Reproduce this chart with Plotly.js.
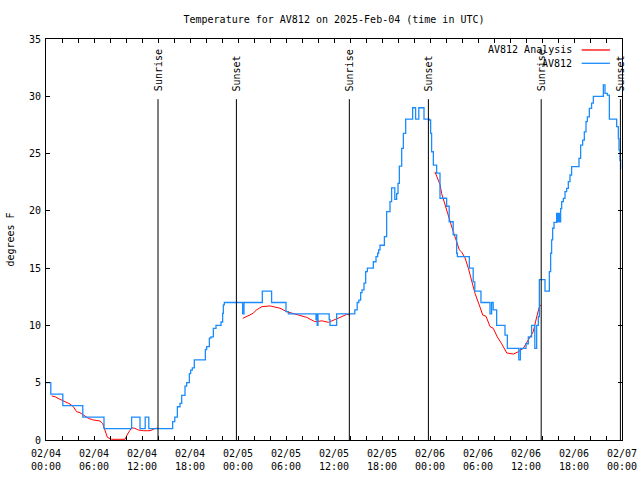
<!DOCTYPE html>
<html>
<head>
<meta charset="utf-8">
<script src="https://cdn.plot.ly/plotly-3.0.1.min.js"></script>
<style>html,body{margin:0;padding:0;background:#fff;}#chart{width:640px;height:480px;}</style>
</head>
<body>
<div id="chart"></div>
<script>
// Observations (AV812), hours since 2025-02-04 00:00 UTC, degrees F (step changes)
var obsHours = [0, 0.6, 2.1, 4.6, 7.25, 10.7, 11.75, 12.4, 12.85,
  15.83, 16.1, 16.42, 16.75, 16.96, 17.375, 17.58, 17.92, 18.08, 18.29, 18.54,
  19.92, 20.08, 20.42, 20.625, 20.92, 21.25, 21.875, 22.08, 22.17, 22.29,
  24.58, 24.75, 27.04, 28.2, 30.0, 30.3, 33.75, 33.85, 33.9, 34.0, 35.4, 35.5, 36.33,
  38.6, 38.9, 39.1, 39.33, 39.5, 39.75, 39.96, 40.17, 40.92, 41.25, 41.46, 41.58, 41.75,
  42.3, 42.58, 43.0, 43.2, 43.6, 43.83, 44.0, 44.17, 44.46, 44.67, 44.96, 45.83, 46.2, 46.6, 47.25,
  47.92, 48.08, 48.2, 48.42, 48.83, 49.25, 50.08, 50.4, 50.9, 51.33, 51.42, 52.92, 53.4, 53.6,
  54.37, 55.5, 55.7, 55.9, 56.33, 57.375, 57.67, 59.1, 59.3, 60.0, 60.29, 60.7, 61.1, 61.33, 61.54,
  61.67, 62.375, 62.92, 63.08, 63.2, 63.33, 63.5, 63.83, 63.92, 64.04, 64.17, 64.33, 64.46, 64.67,
  64.875, 65.08, 65.29, 65.5, 65.7, 66.625, 66.83, 67.08, 67.29, 67.5, 67.67, 67.92, 68.2, 68.42,
  69.67, 69.875, 70.17, 70.42, 71.33, 71.54, 71.625, 71.75, 71.83];
var obsTemp = [5, 4, 3, 2, 1, 2, 1, 2, 1,
  1.6, 2, 2.9, 3.2, 3.9, 4.7, 5, 5.8, 6.1, 6.3, 7,
  7.9, 8.15, 8.9, 9, 9.75, 10, 10.3, 11.06, 11.8, 12,
  11, 12, 13, 12, 11.2, 11, 10.5, 11, 10, 11, 10.5, 10, 11,
  11.35, 12, 12.2, 12.86, 13.1, 13.7, 14.7, 15, 15.56, 16, 16.3, 16.6, 17,
  17.75, 19.93, 20.8, 22, 21, 21.5, 22.4, 23.9, 25.46, 26.76, 28, 29, 28, 29, 28,
  27.93, 26.76, 25.16, 24, 23.3, 21.1, 20.4, 19.05, 17.9, 16.3, 16, 15, 13.8, 13,
  12, 11, 12, 11.35, 10, 9.16, 8, 7, 8, 8.4, 9, 10, 8, 10, 10.76,
  14, 13, 14.69, 16.3, 17.46, 18.48, 19, 19.78, 19.05, 19.78, 19.05, 20.2, 20.8, 21.09,
  21.67, 21.96, 22.55, 23.13, 23.86, 24.58, 25.74, 26.18, 26.9, 27.78, 28.2, 28.95, 29.4, 30,
  31, 30.26, 30.1, 28, 27.35, 26.3, 25.3, 24.4, 23.6];

// Analysis (AV812 Analysis), null separates the nightly segments
var anaHours = [0.71, 1.125, 1.75, 2.17, 2.58, 3.0, 3.42, 3.83, 4.25, 4.67, 5.29, 5.9, 6.75, 7.08, 7.375, 7.67, 8.2, 9.875, 10.2, 10.5, 10.7, 11.1, 11.55, 12.2, 13.0, 13.4, 13.75, 14.05,
  null,
  24.6, 25.3, 25.9, 26.3, 27.0, 28.0, 29.25, 30.1, 31.3, 32.6, 33.6, 34.5, 35.3, 36.1, 36.75, 37.6, 38.0,
  null,
  48.62, 49.04, 49.25, 49.46, 49.75, 50.09, 50.5, 50.9, 51.34, 51.66, 51.96, 52.375, 52.79, 53.21, 53.625, 54.25, 54.59, 55.0, 55.5, 55.91, 56.41, 56.96, 57.59, 58.41, 59.04, 59.66, 60.29, 60.91, 61.34, 61.66, 61.84];
var anaTemp = [3.84, 3.78, 3.55, 3.43, 3.26, 3.14, 2.9, 2.47, 2.38, 2.18, 1.89, 1.75, 1.66, 1.45, 0.87, 0.23, 0.06, 0.06, 0.52, 0.87, 1.06, 1.02, 0.87, 0.81, 0.81, 0.93, 1.02, 1.02,
  null,
  10.62, 10.82, 11.06, 11.35, 11.64, 11.7, 11.5, 11.2, 10.97, 10.7, 10.33, 10.4, 10.27, 10.47, 10.7, 10.97, 10.9,
  null,
  23.4, 22.7, 22.3, 21.5, 20.8, 20.2, 19.05, 18.2, 17.3, 16.6, 16.4, 15.9, 15.0, 14.0, 12.8, 11.6, 10.9, 10.8, 9.9, 9.75, 9.0, 8.4, 7.6, 7.5, 7.7, 8.0, 8.7, 9.45, 10.76, 11.6, 11.8];

var sunEvents = ['Sunrise', 'Sunset', 'Sunrise', 'Sunset', 'Sunrise', 'Sunset'];
var sunTimes = ['2025-02-04 14:00', '2025-02-04 23:48', '2025-02-05 13:55', '2025-02-05 23:48', '2025-02-06 13:54', '2025-02-06 23:48'];

var seriesNames = ['AV812 Analysis', 'AV812'];
var seriesColors = ['#ff0000', '#1a8cff'];

var start = Date.UTC(2025, 1, 4, 0, 0, 0);
function toDate(h) {
  if (h === null) return null;
  return new Date(start + h * 3600000).toISOString().replace('T', ' ').slice(0, 19);
}

var FONT = 'DejaVu Sans Mono, Liberation Mono, monospace';

var traces = [
  {x: anaHours.map(toDate), y: anaTemp, type: 'scatter', mode: 'lines', name: seriesNames[0],
   line: {color: seriesColors[0], width: 1}, connectgaps: false},
  {x: obsHours.map(toDate), y: obsTemp, type: 'scatter', mode: 'lines', name: seriesNames[1],
   line: {color: seriesColors[1], width: 1.3, shape: 'hv'}}
];

var shapes = [];
var annotations = [];
for (var i = 0; i < sunTimes.length; i++) {
  shapes.push({type: 'line', xref: 'x', yref: 'y domain', x0: sunTimes[i], x1: sunTimes[i], y0: 0, y1: 0.85,
    line: {color: '#000', width: 1}});
  annotations.push({xref: 'x', yref: 'y domain', x: sunTimes[i], y: 0.865, text: sunEvents[i],
    textangle: -90, showarrow: false, xanchor: 'center', yanchor: 'bottom',
    font: {family: FONT, size: 10, color: '#000'}});
}
// manual legend: text left, sample line right (gnuplot style)
var legY = [0.9726, 0.9394];
for (var j = 0; j < seriesNames.length; j++) {
  annotations.push({xref: 'paper', yref: 'paper', x: 0.917, y: legY[j], text: seriesNames[j],
    showarrow: false, xanchor: 'right', yanchor: 'middle', font: {family: FONT, size: 10, color: '#000'}});
  shapes.push({type: 'line', xref: 'paper', yref: 'paper', x0: 0.930, x1: 0.979, y0: legY[j], y1: legY[j],
    line: {color: seriesColors[j], width: 1.3}});
}

var layout = {
  width: 640, height: 480,
  margin: {l: 46, r: 18, t: 39, b: 40, pad: 0},
  paper_bgcolor: '#fff', plot_bgcolor: '#fff',
  showlegend: false,
  font: {family: FONT, size: 10, color: '#000'},
  title: {text: 'Temperature for AV812 on 2025-Feb-04 (time in UTC)', x: 0.5, xref: 'paper',
    y: 1 - 19 / 480, yref: 'container', yanchor: 'middle', font: {family: FONT, size: 10, color: '#000'}},
  xaxis: {type: 'date', range: ['2025-02-04 00:00', '2025-02-07 00:00'],
    tick0: '2025-02-04 00:00', dtick: 21600000, tickformat: '%m/%d<br>%H:%M',
    ticks: 'inside', ticklen: 4, tickcolor: '#000', tickwidth: 1,
    minor: {dtick: 7200000, ticks: 'inside', ticklen: 4, tickcolor: '#000', showgrid: false},
    showline: true, linecolor: '#000', linewidth: 1, mirror: 'ticks',
    showgrid: false, zeroline: false, ticklabelstandoff: 4,
    tickfont: {family: FONT, size: 10, color: '#000'}},
  yaxis: {range: [0, 35], dtick: 5, tick0: 0,
    ticks: 'inside', ticklen: 4, tickcolor: '#000', tickwidth: 1,
    showline: true, linecolor: '#000', linewidth: 1, mirror: 'ticks',
    showgrid: false, zeroline: false, ticklabelstandoff: 2,
    tickfont: {family: FONT, size: 10, color: '#000'},
    title: {text: 'degrees F', standoff: 12, font: {family: FONT, size: 10, color: '#000'}}},
  shapes: shapes,
  annotations: annotations
};

Plotly.newPlot('chart', traces, layout, {staticPlot: true, displayModeBar: false});
</script>
</body>
</html>
